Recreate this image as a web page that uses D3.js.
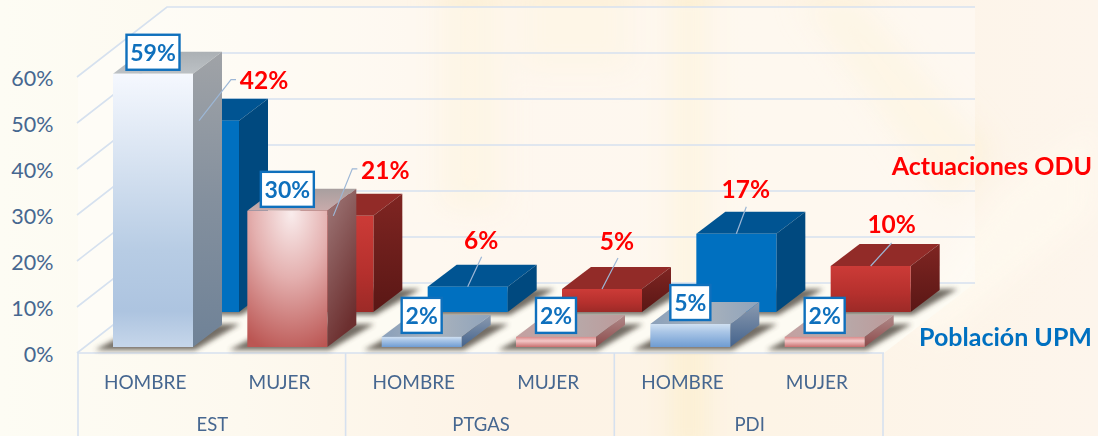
<!DOCTYPE html>
<html><head><meta charset="utf-8">
<script src="https://cdn.jsdelivr.net/npm/d3@7"></script>
<style>html,body{margin:0;padding:0;background:#fdf7ec;overflow:hidden}svg{display:block;font-family:Lato,"Open Sans",sans-serif}</style>
</head><body><div id="c"></div>
<script>
const categories = ["HOMBRE","MUJER","HOMBRE","MUJER","HOMBRE","MUJER"];
const groups = ["EST","PTGAS","PDI"];
const poblacionUPM = [59.4,29.6,2.2,2.2,5,2.2];
const actuacionesODU = [41.6,20.9,5.5,5,17,10];
const seriesNames = ["Actuaciones ODU","Población UPM"];
const yTicks = [0,10,20,30,40,50,60];
const genders = ["h","m","h","m","h","m"];

const W=1098,H=436;
const svg=d3.select("#c").append("svg").attr("width",W).attr("height",H);
const defs=svg.append("defs");
function grad(id,stops,o={}){
  const g=defs.append("linearGradient").attr("id",id)
    .attr("x1",o.x1||0).attr("y1",o.y1||0).attr("x2",o.x2||0).attr("y2",o.y2===undefined?1:o.y2);
  stops.forEach(s=>g.append("stop").attr("offset",s[0]).attr("stop-color",s[1]));
}
function blur(id,s){defs.append("filter").attr("id",id).attr("x","-30%").attr("y","-60%").attr("width","160%").attr("height","220%")
  .append("feGaussianBlur").attr("stdDeviation",s);}
blur("b3",2.6);blur("b12",14);
grad("bg",[[0,"#fdfcf4"],[.22,"#fdf9ef"],[.45,"#fdf3e6"],[.7,"#fdf4e6"],[1,"#fdf5ec"]],{x2:1,y2:0});
grad("hFrontT",[[0,"#f5f8fe"],[.3,"#d9e4f2"],[.65,"#b7cce4"],[.87,"#adc4e0"],[1,"#c6d6ea"]]);
grad("hSideT",[[0,"#a0a3a7"],[.5,"#84909e"],[1,"#6f8297"]]);
grad("hTopT",[[0,"#abb0b4"],[1,"#bcc1c5"]]);
const rg=defs.append("radialGradient").attr("id","mFront").attr("cx",.55).attr("cy",.02).attr("r",1.05);
[[0,"#f9ecec"],[.45,"#e4b0af"],[1,"#bb5653"]].forEach(s=>rg.append("stop").attr("offset",s[0]).attr("stop-color",s[1]));
grad("mSide",[[0,"#a07a7a"],[1,"#6c2f2f"]],{x2:.4});
grad("mTop",[[0,"#a89f9f"],[1,"#c9abab"]]);
grad("hFrontS",[[0,"#cfe0f2"],[.35,"#a9c5e6"],[1,"#6f9cd2"]]);
grad("hSideS",[[0,"#8c9bb0"],[1,"#44638c"]]);
grad("hTopS",[[0,"#8aa0ba"],[.5,"#a9b2bc"],[1,"#8fa3bb"]],{x2:1,y2:0});
grad("mFrontS",[[0,"#d98a8a"],[.4,"#f4c8c8"],[1,"#c9706f"]]);
grad("mSideS",[[0,"#b08a8a"],[1,"#8c4a4a"]]);
grad("mTopS",[[0,"#c4a0a0"],[.5,"#b7aaaa"],[1,"#bd9a9a"]],{x2:1,y2:0});
grad("rFront",[[0,"#cc3b37"],[.6,"#b5302d"],[1,"#9c2a27"]]);
grad("rSide",[[0,"#7f2522"],[1,"#5a1715"]]);

// background
svg.append("rect").attr("width",W).attr("height",H).attr("fill","url(#bg)");
const deco=svg.append("g").attr("filter","url(#b12)");
deco.append("rect").attr("x",672).attr("y",-20).attr("width",34).attr("height",480).attr("fill","#fcecc4").attr("opacity",.6);
deco.append("rect").attr("x",440).attr("y",-20).attr("width",60).attr("height",230).attr("fill","#fcefd2").attr("opacity",.7);
deco.append("path").attr("d","M800 0 L860 0 L990 150 L950 210 Z").attr("fill","#fcefd2").attr("opacity",.7);
deco.append("path").attr("d","M1098 120 L1000 190 L900 330 L940 340 L1098 210 Z").attr("fill","#fef8ee").attr("opacity",.9);
deco.append("rect").attr("x",520).attr("y",-20).attr("width",110).attr("height",90).attr("fill","#fdf0d8").attr("opacity",.8);

const y=d3.scaleLinear().domain([0,60]).range([353,77]);
const idx=categories.map((_,i)=>i);
const x=d3.scaleBand().domain(idx).range([78,884]);
const gx=d3.scaleBand().domain(groups).range([78,884]);
const bw=80, bd={x:29,y:-22}, wall={x:90,y:-70};
const front={x:35,y:-6}, back={x:81,y:-41};
const poly=a=>a.map(p=>p.join(",")).join(" ");
const gridC="#d6e1ef";

// walls / floor / grid
svg.append("polygon").attr("points",poly([[168,7],[975,7],[975,283],[168,283],[78,353],[78,77]])).attr("fill","#ffffff").attr("opacity",.35);
svg.append("polygon").attr("points",poly([[78,353],[168,283],[975,283],[884,353]])).attr("fill","#fdfbf3");
const grid=svg.append("g").attr("fill","none").attr("stroke",gridC).attr("stroke-width",1.6);
yTicks.forEach(t=>{
  const p=y(t);
  grid.append("polyline").attr("points",poly([[77,p],[77+wall.x,p+wall.y],[975,p+wall.y]]));
});
grid.append("line").attr("x1",78).attr("x2",884).attr("y1",353).attr("y2",353);
[78,345.6,614.3,883].forEach(v=>grid.append("line").attr("x1",v).attr("x2",v).attr("y1",353).attr("y2",H));

// axis
const ax=svg.append("g").attr("transform","translate(53.5,1.5)")
  .call(d3.axisLeft(y).tickValues(yTicks).tickSize(0).tickPadding(0).tickFormat(d=>d+"%"));
ax.select(".domain").remove();
ax.selectAll("text").attr("fill","#466790").attr("font-size",21.5).attr("font-family","Lato");

function bar(g,i,v,o,fills){
  const x0=x(i)+o.x, x1=x0+bw, yb=y(0)+o.y, yt=y(v)+o.y;
  g.append("polygon").attr("points",poly([[x0-18,yb+3],[x1+2,yb+3],[x1+bd.x+18,yb+bd.y-1],[x0+bd.x,yb+bd.y]]))
    .attr("fill","#453d34").attr("opacity",.75).attr("filter","url(#b3)");
  g.append("polygon").attr("points",poly([[x0,yt],[x1,yt],[x1+bd.x,yt+bd.y],[x0+bd.x,yt+bd.y]])).attr("fill",fills.top);
  g.append("polygon").attr("points",poly([[x1,yt],[x1+bd.x,yt+bd.y],[x1+bd.x,yb+bd.y],[x1,yb]])).attr("fill",fills.side);
  g.append("rect").attr("x",x0).attr("y",yt).attr("width",bw).attr("height",yb-yt).attr("fill",fills.front);
}
const backG=svg.append("g");
actuacionesODU.forEach((v,i)=>bar(backG,i,v,back,genders[i]=="h"
  ?{top:"#005492",side:"#00497f",front:"#0070c0"}
  :{top:"#922b28",side:"url(#rSide)",front:"url(#rFront)"}));
const frontG=svg.append("g");
poblacionUPM.forEach((v,i)=>{
  const tall=v>20;
  bar(frontG,i,v,front,genders[i]=="h"
    ?(tall?{top:"url(#hTopT)",side:"url(#hSideT)",front:"url(#hFrontT)"}:{top:"url(#hTopS)",side:"url(#hSideS)",front:"url(#hFrontS)"})
    :(tall?{top:"url(#mTop)",side:"url(#mSide)",front:"url(#mFront)"}:{top:"url(#mTopS)",side:"url(#mSideS)",front:"url(#mFrontS)"}));
});

// leaders + red labels (placement relative to each bar's top centre)
const leaderEnd=[[32,-41,37,-41],[19,-47,24,-47],[14,-30],[16,-31],[10,-27],[21,-23]];
const labelOff=[[65,-40],[52,-46],[13.5,-47],[15,-48],[9.5,-45],[21,-42]];
const pct=d=>Math.round(d)+"%";
const lg=svg.append("g");
actuacionesODU.forEach((v,i)=>{
  const cx=x(i)+back.x+bw/2, cy=y(v)+back.y, le=leaderEnd[i], lo=labelOff[i];
  const pts=[[cx,cy],[cx+le[0],cy+le[1]]]; if(le.length>2)pts.push([cx+le[2],cy+le[3]]);
  lg.append("polyline").attr("points",poly(pts)).attr("fill","none").attr("stroke","#9db7d6").attr("stroke-width",1.2);
  lg.append("text").attr("x",cx+lo[0]).attr("y",cy+lo[1]).attr("dy","0.36em").attr("text-anchor","middle")
    .attr("font-size",24.5).attr("font-weight",700).attr("fill","#ff0000").text(pct(v));
});
// boxed labels
poblacionUPM.forEach((v,i)=>{
  const cx=x(i)+front.x+bw/2, cy=y(v)+front.y-21.5, s=pct(v), w=s.length>2?53:40;
  lg.append("rect").attr("x",cx-w/2).attr("y",cy-17.5).attr("width",w).attr("height",35)
    .attr("fill","#fff").attr("stroke","#0f70bd").attr("stroke-width",2.4);
  lg.append("text").attr("x",cx).attr("y",cy).attr("dy","0.36em").attr("text-anchor","middle")
    .attr("font-size",23).attr("font-weight",700).attr("fill","#0f70bd").text(s);
});
// category labels
const cl=svg.append("g").attr("fill","#466790").attr("text-anchor","middle").attr("font-size",19);
categories.forEach((c,i)=>cl.append("text").attr("x",x(i)+x.bandwidth()/2).attr("y",389).text(c));
groups.forEach(g=>cl.append("text").attr("x",gx(g)+gx.bandwidth()/2).attr("y",431).attr("font-size",18.5).text(g));
// series names
svg.append("text").attr("x",1092).attr("y",175).attr("text-anchor","end").attr("font-size",25).attr("font-weight",700).attr("fill","#ff0000").text(seriesNames[0]);
svg.append("text").attr("x",1092).attr("y",346).attr("text-anchor","end").attr("font-size",25).attr("font-weight",700).attr("fill","#0070c0").text(seriesNames[1]);
</script></body></html>
